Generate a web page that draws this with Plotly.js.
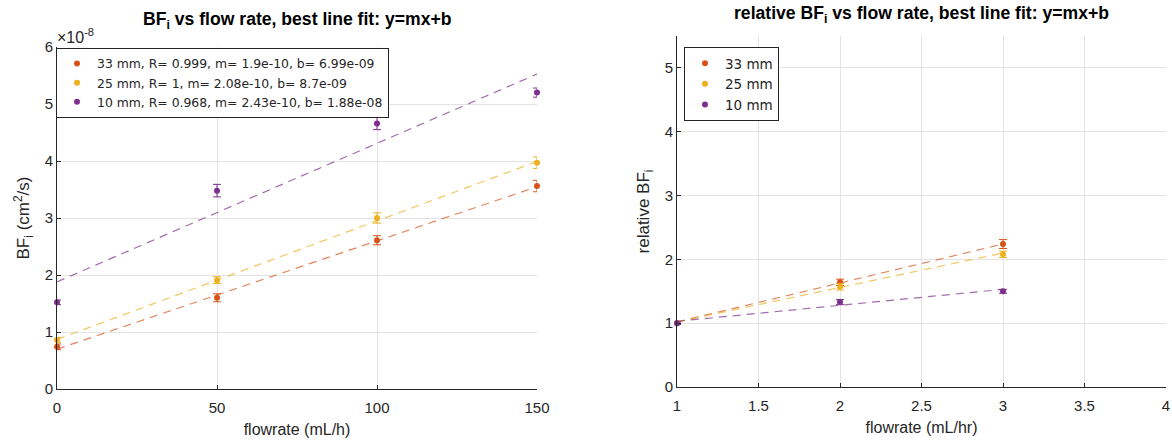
<!DOCTYPE html>
<html><head><meta charset="utf-8">
<script src="https://cdn.plot.ly/plotly-3.0.1.min.js"></script>
<style>html,body{margin:0;padding:0;background:#fff}#c{width:1172px;height:444px}</style>
</head><body><div id="c"></div>
<script>
// Left panel: absolute BFi (units of 1e-8 cm^2/s)
const flow = [0, 50, 100, 150];
const bf33 = [0.74, 1.60, 2.61, 3.56];
const err33 = [0.05, 0.07, 0.08, 0.10];
const bf25 = [0.86, 1.91, 3.00, 3.97];
const err25 = [0.04, 0.06, 0.09, 0.10];
const bf10 = [1.52, 3.48, 4.66, 5.20];
const err10 = [0.04, 0.11, 0.11, 0.08];
// fit parameters from legend (m per mL/h, b), in units of 1e-8
const fitM = [0.019, 0.0208, 0.0243];
const fitB = [0.699, 0.870, 1.880];
const fitX = [0, 150];
const names1 = ["33 mm, R= 0.999, m= 1.9e-10, b= 6.99e-09",
                "25 mm, R= 1, m= 2.08e-10, b= 8.7e-09",
                "10 mm, R= 0.968, m= 2.43e-10, b= 1.88e-08"];
// Right panel: relative BFi
const flowRel = [1, 2, 3];
const rel33 = [1.00, 1.64, 2.24];
const relErr33 = [0.02, 0.05, 0.07];
const rel25 = [1.00, 1.57, 2.08];
const relErr25 = [0.02, 0.05, 0.05];
const rel10 = [1.00, 1.33, 1.50];
const relErr10 = [0.02, 0.04, 0.03];
const relFitX = [1, 3];
const relFit33 = [1.02, 2.24];
const relFit25 = [1.02, 2.10];
const relFit10 = [1.03, 1.53];
const names2 = ["33 mm", "25 mm", "10 mm"];
const colors = ["#D95319", "#EDB120", "#7E2F8E"];

const FONT = "Liberation Sans, Arial, sans-serif";
const LFONT = "DejaVu Sans, Liberation Sans, sans-serif";
const traces = [];
const data1 = [[bf33, err33], [bf25, err25], [bf10, err10]];
data1.forEach((d, i) => {
  traces.push({x: flow, y: d[0], type: 'scatter', mode: 'markers', name: names1[i],
    marker: {color: colors[i], size: 6}, cliponaxis: false,
    error_y: {type: 'data', array: d[1], visible: true, color: colors[i], thickness: 1, width: 4},
    xaxis: 'x', yaxis: 'y', legend: 'legend'});
  traces.push({x: fitX, y: fitX.map(v => fitM[i] * v + fitB[i]), type: 'scatter', mode: 'lines',
    line: {color: colors[i], dash: '8px,6px', width: 1.2}, opacity: 0.7, showlegend: false,
    xaxis: 'x', yaxis: 'y', hoverinfo: 'skip'});
});
const data2 = [[rel33, relErr33, relFit33], [rel25, relErr25, relFit25], [rel10, relErr10, relFit10]];
data2.forEach((d, i) => {
  traces.push({x: flowRel, y: d[0], type: 'scatter', mode: 'markers', name: names2[i],
    marker: {color: colors[i], size: 6}, cliponaxis: false,
    error_y: {type: 'data', array: d[1], visible: true, color: colors[i], thickness: 1, width: 4},
    xaxis: 'x2', yaxis: 'y2', legend: 'legend2'});
  traces.push({x: relFitX, y: d[2], type: 'scatter', mode: 'lines',
    line: {color: colors[i], dash: '8px,6px', width: 1.2}, opacity: 0.7, showlegend: false,
    xaxis: 'x2', yaxis: 'y2', hoverinfo: 'skip'});
});

const axCommon = {showgrid: true, gridcolor: '#e3e3e3', gridwidth: 1, zeroline: false,
  showline: true, linecolor: '#262626', linewidth: 1, ticks: 'inside', ticklen: 4,
  tickcolor: '#262626', tickfont: {family: FONT, size: 15, color: '#262626'}, mirror: false};
const titleFont = {family: FONT, size: 16, color: '#262626'};

const layout = {
  width: 1172, height: 444, margin: {l: 0, r: 0, t: 0, b: 0},
  paper_bgcolor: '#fff', plot_bgcolor: '#fff',
  font: {family: FONT, color: '#262626'},
  xaxis: Object.assign({}, axCommon, {domain: [57/1172, 537/1172], range: [0, 150],
    tickvals: [0, 50, 100, 150], anchor: 'y', ticklabelstandoff: 5,
    title: {text: 'flowrate (mL/h)', font: titleFont, standoff: 8}}),
  yaxis: Object.assign({}, axCommon, {domain: [55/444, 397/444], range: [0, 6],
    tickvals: [0, 1, 2, 3, 4, 5, 6], anchor: 'x',
    title: {text: 'BF<sub>i</sub> (cm<sup>2</sup>/s)', font: {family: FONT, size: 17, color: '#262626'}, standoff: 10}}),
  xaxis2: Object.assign({}, axCommon, {domain: [677/1172, 1166/1172], range: [1, 4],
    tickvals: [1, 1.5, 2, 2.5, 3, 3.5, 4], anchor: 'y2', ticklabelstandoff: 5,
    title: {text: 'flowrate (mL/hr)', font: titleFont, standoff: 8}}),
  yaxis2: Object.assign({}, axCommon, {domain: [57/444, 408/444], range: [0, 5.5],
    tickvals: [0, 1, 2, 3, 4, 5], anchor: 'x2',
    title: {text: 'relative BF<sub>i</sub>', font: {family: FONT, size: 17, color: '#262626'}, standoff: 10}}),
  legend: {x: 56/1172, y: 396/444, xanchor: 'left', yanchor: 'top', bgcolor: '#fff',
    bordercolor: '#262626', borderwidth: 1, font: {family: LFONT, size: 12.4, color: '#262626'},
    tracegroupgap: 0, itemwidth: 30},
  legend2: {x: 684/1172, y: 397/444, xanchor: 'left', yanchor: 'top', bgcolor: '#fff',
    bordercolor: '#262626', borderwidth: 1, font: {family: LFONT, size: 13.5, color: '#262626'},
    tracegroupgap: 0, itemwidth: 30},
  annotations: [
    {text: '<b>BF<sub>i</sub> vs flow rate, best line fit: y=mx+b</b>', xref: 'paper', yref: 'paper',
     x: 297/1172, y: 1 - 21/444, xanchor: 'center', yanchor: 'middle', showarrow: false,
     font: {family: FONT, size: 17.6, color: '#000'}},
    {text: '<b>relative BF<sub>i</sub> vs flow rate, best line fit: y=mx+b</b>', xref: 'paper', yref: 'paper',
     x: 921/1172, y: 1 - 14/444, xanchor: 'center', yanchor: 'middle', showarrow: false,
     font: {family: FONT, size: 17.6, color: '#000'}},
    {text: '×10<sup>-8</sup>', xref: 'paper', yref: 'paper', x: 55/1172, y: 1 - 36/444,
     xanchor: 'left', yanchor: 'middle', showarrow: false,
     font: {family: FONT, size: 16, color: '#262626'}}
  ]
};
Plotly.newPlot('c', traces, layout, {displayModeBar: false, staticPlot: true});
</script></body></html>
